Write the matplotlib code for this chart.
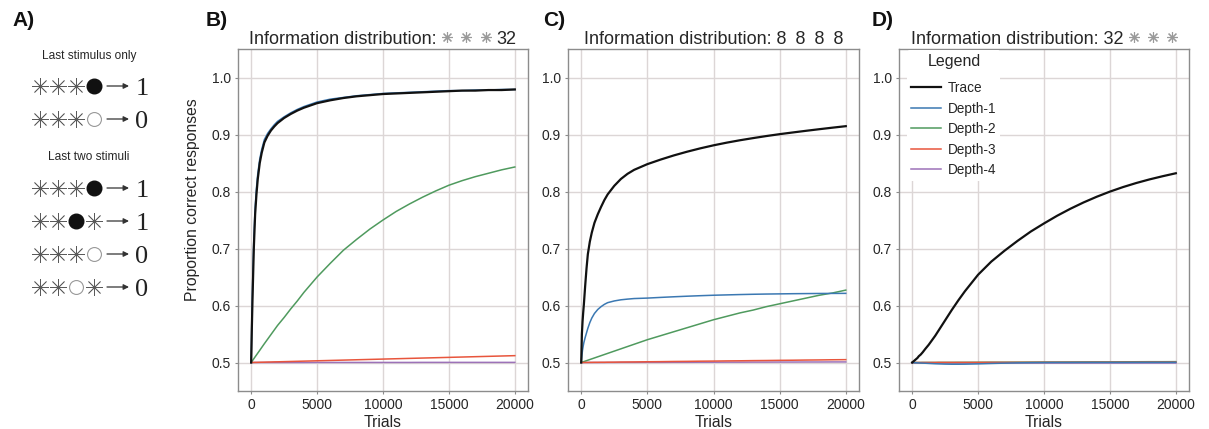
import matplotlib
matplotlib.use("Agg")
import matplotlib.pyplot as plt
from matplotlib.offsetbox import TextArea, DrawingArea, HPacker, AnchoredOffsetbox
from matplotlib.lines import Line2D

plt.rcParams['font.family'] = ['Liberation Sans', 'DejaVu Sans']

# ---------------- data ----------------
trials = [0, 50, 100, 150, 200, 300, 400, 500, 650, 800, 1000, 1250, 1500, 1750, 2000,
          2500, 3000, 3500, 4000, 5000, 6000, 7000, 8000, 9000, 10000, 11000, 12000,
          13000, 14000, 15000, 16000, 17000, 18000, 19000, 20000]
series_names = ['Trace', 'Depth-1', 'Depth-2', 'Depth-3', 'Depth-4']
xticks = [0, 5000, 10000, 15000, 20000]
yticks = [0.5, 0.6, 0.7, 0.8, 0.9, 1.0]

# Panel B: information distribution * * * 32
b_trace = [0.500, 0.560, 0.610, 0.655, 0.700, 0.760, 0.795, 0.822, 0.850, 0.868, 0.886, 0.898,
           0.907, 0.914, 0.920, 0.929, 0.936, 0.942, 0.947, 0.955, 0.960, 0.964, 0.967, 0.969,
           0.971, 0.972, 0.973, 0.974, 0.975, 0.976, 0.977, 0.977, 0.978, 0.978, 0.979]
b_d1 = [0.500, 0.580, 0.630, 0.675, 0.718, 0.772, 0.806, 0.831, 0.857, 0.874, 0.891, 0.902,
        0.910, 0.917, 0.923, 0.931, 0.938, 0.944, 0.949, 0.957, 0.962, 0.965, 0.968, 0.970,
        0.972, 0.973, 0.974, 0.975, 0.976, 0.977, 0.977, 0.978, 0.978, 0.979, 0.979]
b_d2 = [0.500, 0.5017, 0.5033, 0.505, 0.5066, 0.510, 0.5132, 0.5165, 0.5214, 0.5264, 0.533,
        0.541, 0.549, 0.557, 0.565, 0.579, 0.594, 0.608, 0.623, 0.650, 0.674, 0.697, 0.716,
        0.734, 0.750, 0.765, 0.778, 0.790, 0.801, 0.811, 0.819, 0.826, 0.832, 0.838, 0.843]
b_d3 = [0.5000, 0.5000, 0.5001, 0.5001, 0.5001, 0.5002, 0.5002, 0.5003, 0.5004, 0.5005, 0.5006,
        0.5008, 0.5009, 0.5011, 0.5012, 0.5015, 0.5018, 0.5021, 0.5024, 0.5030, 0.5036, 0.5042,
        0.5048, 0.5054, 0.5060, 0.5066, 0.5072, 0.5078, 0.5084, 0.5090, 0.5096, 0.5102, 0.5108,
        0.5114, 0.5120]
b_d4 = [0.5000, 0.5000, 0.5000, 0.5000, 0.5000, 0.5000, 0.5000, 0.5000, 0.5000, 0.5000, 0.5000,
        0.5000, 0.5000, 0.5000, 0.5000, 0.5000, 0.5000, 0.5000, 0.5000, 0.5001, 0.5001, 0.5001,
        0.5001, 0.5001, 0.5001, 0.5001, 0.5001, 0.5002, 0.5002, 0.5002, 0.5002, 0.5002, 0.5002,
        0.5002, 0.5002]

# Panel C: information distribution 8 8 8 8
c_trace = [0.500, 0.550, 0.572, 0.588, 0.602, 0.635, 0.665, 0.690, 0.712, 0.728, 0.745, 0.760,
           0.773, 0.785, 0.795, 0.810, 0.822, 0.831, 0.838, 0.848, 0.856, 0.8633, 0.8698, 0.8757,
           0.881, 0.8857, 0.8899, 0.8937, 0.8973, 0.9006, 0.9036, 0.9065, 0.9093, 0.912, 0.9146]
c_d1 = [0.500, 0.512, 0.522, 0.529, 0.535, 0.544, 0.552, 0.560, 0.570, 0.578, 0.586, 0.593,
        0.598, 0.602, 0.605, 0.608, 0.610, 0.6112, 0.6122, 0.6130, 0.6142, 0.6153, 0.6163,
        0.6172, 0.6180, 0.6186, 0.6192, 0.6197, 0.6201, 0.6204, 0.6207, 0.6209, 0.6211,
        0.6212, 0.6213]
c_d2 = [0.500, 0.5004, 0.5008, 0.5012, 0.5016, 0.5024, 0.5032, 0.504, 0.5052, 0.5064, 0.508,
        0.510, 0.512, 0.514, 0.516, 0.520, 0.524, 0.528, 0.532, 0.540, 0.547, 0.554, 0.561,
        0.568, 0.575, 0.581, 0.587, 0.592, 0.598, 0.603, 0.608, 0.613, 0.618, 0.622, 0.627]
c_d3 = [0.5000, 0.5000, 0.5000, 0.5000, 0.5001, 0.5001, 0.5001, 0.5001, 0.5002, 0.5002, 0.5003,
        0.5003, 0.5004, 0.5004, 0.5005, 0.5006, 0.5008, 0.5009, 0.5010, 0.5013, 0.5015, 0.5018,
        0.5020, 0.5023, 0.5025, 0.5028, 0.5030, 0.5033, 0.5035, 0.5038, 0.5040, 0.5043, 0.5045,
        0.5048, 0.5050]
c_d4 = [0.5000, 0.5000, 0.5000, 0.5000, 0.5000, 0.5000, 0.5000, 0.5000, 0.5000, 0.5000, 0.5000,
        0.5000, 0.5000, 0.5000, 0.5001, 0.5001, 0.5002, 0.5002, 0.5002, 0.5003, 0.5003, 0.5004,
        0.5004, 0.5005, 0.5005, 0.5006, 0.5006, 0.5007, 0.5007, 0.5008, 0.5008, 0.5009, 0.5009,
        0.5010, 0.5010]

# Panel D: information distribution 32 * * *
d_trace = [0.500, 0.501, 0.502, 0.503, 0.504, 0.506, 0.508, 0.511, 0.514, 0.518, 0.524, 0.531,
           0.539, 0.547, 0.556, 0.574, 0.592, 0.609, 0.625, 0.654, 0.677, 0.696, 0.7135, 0.7298,
           0.744, 0.7575, 0.7697, 0.7808, 0.7908, 0.7998, 0.8078, 0.8149, 0.8212, 0.8268, 0.832]
d_d1 = [0.5000, 0.4999, 0.4998, 0.4997, 0.4996, 0.4995, 0.4994, 0.4993, 0.4991, 0.4989, 0.4987,
        0.4984, 0.4981, 0.4978, 0.4976, 0.4972, 0.4970, 0.4970, 0.4971, 0.4976, 0.4983, 0.4989,
        0.4994, 0.4997, 0.4999, 0.5000, 0.5000, 0.5001, 0.5001, 0.5001, 0.5001, 0.5002, 0.5002,
        0.5002, 0.5002]
d_d2 = [0.5000, 0.5000, 0.5000, 0.5000, 0.5000, 0.5000, 0.5000, 0.5000, 0.5000, 0.5001, 0.5001,
        0.5001, 0.5001, 0.5001, 0.5002, 0.5002, 0.5002, 0.5003, 0.5003, 0.5004, 0.5005, 0.5005,
        0.5006, 0.5007, 0.5008, 0.5008, 0.5009, 0.5010, 0.5011, 0.5011, 0.5012, 0.5013, 0.5014,
        0.5014, 0.5015]
d_d3 = [0.5000, 0.5000, 0.5000, 0.5000, 0.5000, 0.5000, 0.5000, 0.5000, 0.5000, 0.5000, 0.5000,
        0.5000, 0.5000, 0.5000, 0.5001, 0.5001, 0.5001, 0.5001, 0.5001, 0.5001, 0.5002, 0.5002,
        0.5002, 0.5002, 0.5003, 0.5003, 0.5003, 0.5003, 0.5004, 0.5004, 0.5004, 0.5004, 0.5005,
        0.5005, 0.5005]
d_d4 = [0.5000, 0.5000, 0.5000, 0.5000, 0.5000, 0.5000, 0.5000, 0.5000, 0.5000, 0.5000, 0.5000,
        0.5000, 0.5000, 0.5000, 0.5000, 0.5000, 0.5000, 0.5000, 0.5000, 0.5000, 0.5000, 0.5000,
        0.5000, 0.5000, 0.5000, 0.5000, 0.5000, 0.5000, 0.5000, 0.5000, 0.5000, 0.5000, 0.5000,
        0.5000, 0.5000]

panel_titles_left = ['Information distribution:',
                     'Information distribution: 8\u20028\u20028\u20028',
                     'Information distribution: 32']

# Panel A schematic content
a_heading_1 = 'Last stimulus only'
a_heading_2 = 'Last two stimuli'
a_rows_1 = ['***F', '***O']
a_out_1 = ['1', '0']
a_rows_2 = ['***F', '**F*', '***O', '**O*']
a_out_2 = ['1', '1', '0', '0']

# ---------------- styling ----------------
colors = ['#111111', '#3b78b2', '#4f9a5e', '#e8553c', '#9c72b8']
widths = [1.6, 1.1, 1.1, 1.1, 1.1]
zorders = [5, 4, 3, 3, 2]
text_col = '#262626'
spine_col = '#8c8c8c'
grid_col = '#dcd6d6'

W, H = 1209, 429
fig = plt.figure(figsize=(W / 100, H / 100), dpi=100)


def px_axes(l, t, r, b):
    return fig.add_axes([l / W, 1 - b / H, (r - l) / W, (b - t) / H])


def style_axes(ax):
    ax.set_xlim(-1000, 21000)
    ax.set_ylim(0.45, 1.05)
    ax.set_xticks(xticks)
    ax.set_yticks(yticks)
    ax.set_yticklabels([f'{v:.1f}' for v in yticks])
    ax.grid(True, color=grid_col, lw=1.0)
    ax.set_axisbelow(True)
    for s in ax.spines.values():
        s.set_color(spine_col)
        s.set_linewidth(1.0)
    ax.tick_params(length=2.5, width=0.8, color=spine_col, labelsize=10,
                   labelcolor=text_col, pad=2.5)
    ax.set_xlabel('Trials', fontsize=11.3, color=text_col, labelpad=2)


def star_area(n, lead, spacing, tail, ms=7.8):
    width = lead + spacing * (n - 1) + tail
    da = DrawingArea(width, 10, 0, 0)
    for i in range(n):
        da.add_artist(Line2D([lead + i * spacing], [5.0], marker=(8, 2, 0), markersize=ms,
                             color='#9a9a9a', mew=0.8, linestyle='none'))
    return da


def add_title(ax, children):
    box = HPacker(children=children, align='baseline', pad=0, sep=0)
    ab = AnchoredOffsetbox(loc='lower center', child=box, pad=0, frameon=False,
                           bbox_to_anchor=(0.5, 1.0), bbox_transform=ax.transAxes,
                           borderpad=0.05)
    ax.add_artist(ab)


tprops = dict(size=13, color=text_col)

axes_px = [(238, 49, 528, 391), (568, 49, 859, 391), (899, 49, 1189, 391)]
panel_data = [
    [b_trace, b_d1, b_d2, b_d3, b_d4],
    [c_trace, c_d1, c_d2, c_d3, c_d4],
    [d_trace, d_d1, d_d2, d_d3, d_d4],
]

axs = []
for k, (rect, data) in enumerate(zip(axes_px, panel_data)):
    ax = px_axes(*rect)
    style_axes(ax)
    for name, vals, c, lw, z in zip(series_names, data, colors, widths, zorders):
        assert len(vals) == len(trials), (k, name, len(vals))
        ax.plot(trials, vals, color=c, lw=lw, label=name, zorder=z)
    axs.append(ax)

# titles
add_title(axs[0], [TextArea(panel_titles_left[0], textprops=tprops),
                   star_area(3, 7.0, 14.0, 8.0),
                   TextArea('32', textprops=tprops)])
add_title(axs[1], [TextArea(panel_titles_left[1], textprops=tprops)])
add_title(axs[2], [TextArea(panel_titles_left[2], textprops=tprops),
                   star_area(3, 7.0, 14.0, 3.0)])

axs[0].set_ylabel('Proportion correct responses', fontsize=11.3, color=text_col)
axs[0].yaxis.set_label_coords(-0.131, 0.56)

leg = axs[2].legend(title='Legend', loc='upper left', fontsize=9.8, title_fontsize=11.5,
                    frameon=True, facecolor='white', edgecolor='none', framealpha=1.0,
                    handlelength=2.2, handletextpad=0.5, labelspacing=0.48,
                    borderaxespad=0.07, borderpad=0.28,
                    bbox_to_anchor=(0.026, 1.0))
leg._legend_box.sep = 8.8
for t in leg.get_texts():
    t.set_color(text_col)
leg.get_title().set_color(text_col)

# panel letters
for lab, x in zip(['A)', 'B)', 'C)', 'D)'], [12, 206, 543, 872]):
    fig.text(x / W, 1 - 21 / H, lab, fontsize=15, fontweight='bold', ha='left',
             va='center', color='#111111')

# ---------------- panel A ----------------
ax_a = fig.add_axes([0, 0, 195 / W, 1])
ax_a.set_xlim(0, 195)
ax_a.set_ylim(H, 0)
ax_a.axis('off')

sym_x = [40, 58, 76, 94]


def draw_row(seq, out, y):
    for ch, x in zip(seq, sym_x):
        if ch == '*':
            ax_a.plot([x], [y], marker=(8, 2, 0), markersize=12, color='#5a5a5a',
                      mew=0.55, linestyle='none')
        elif ch == 'F':
            ax_a.plot([x], [y], marker='o', markersize=10.5, color='#111111',
                      linestyle='none')
        else:
            ax_a.plot([x], [y], marker='o', markersize=10, markerfacecolor='white',
                      markeredgecolor='#999999', mew=0.8, linestyle='none')
    ax_a.annotate('', xy=(129, y), xytext=(107, y),
                  arrowprops=dict(arrowstyle='-|>', lw=0.9, color='#333333',
                                  mutation_scale=8, shrinkA=0, shrinkB=0))
    ax_a.text(142, y + 9, out, fontsize=19, family='Liberation Serif', ha='center',
              va='baseline', color='#222222')


ax_a.text(89, 56, a_heading_1, fontsize=8.6, ha='center', va='center', color=text_col)
for seq, out, y in zip(a_rows_1, a_out_1, [86, 119]):
    draw_row(seq, out, y)
ax_a.text(89, 157.5, a_heading_2, fontsize=8.6, ha='center', va='center', color=text_col)
for seq, out, y in zip(a_rows_2, a_out_2, [188, 221, 254, 287]):
    draw_row(seq, out, y)

fig.savefig('out.png', dpi=100)
